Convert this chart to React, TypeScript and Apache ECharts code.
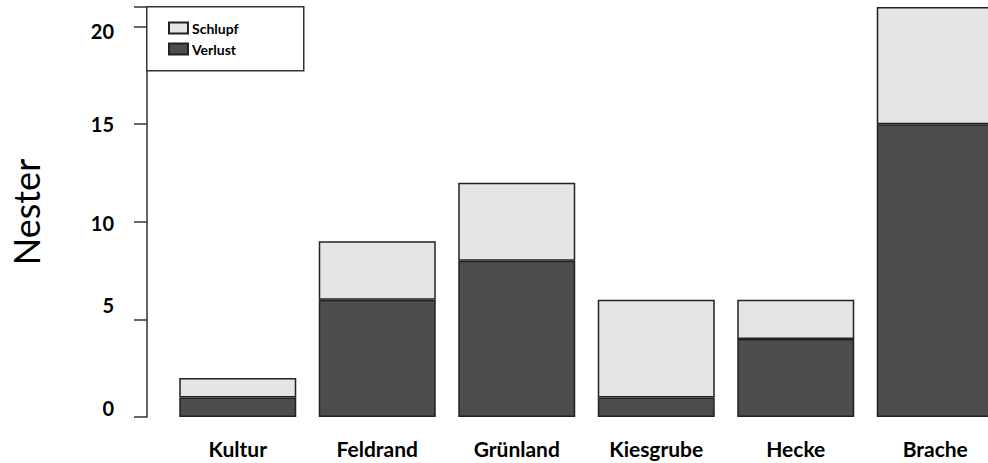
import React, { useEffect, useRef } from "react";
import * as echarts from "echarts";

const categories = ["Kultur", "Feldrand", "Grünland", "Kiesgrube", "Hecke", "Brache"];
const verlust = [1, 6, 8, 1, 4, 15];
const schlupf = [1, 3, 4, 5, 2, 6];
const yTicks = [0, 5, 10, 15, 20];

export default function App() {
  const ref = useRef<HTMLDivElement>(null);
  useEffect(() => {
    const chart = echarts.init(ref.current!, null, { renderer: "svg" });
    const font = "Lato, 'Open Sans', sans-serif";
    const shift: Record<number, number> = { 0: -9, 5: -14, 10: 1, 15: 0, 20: 4 };
    const rich: Record<string, any> = {};
    yTicks.forEach((t) => {
      const d = shift[t];
      rich["t" + t] = {
        fontFamily: font,
        fontWeight: "bold",
        fontSize: 20,
        color: "#000",
        padding: d < 0 ? [0, 0, -2 * d, 0] : [2 * d, 0, 0, 0],
      };
    });
    chart.setOption({
      animation: false,
      grid: { left: 167, right: 0, top: 7, bottom: 46 },
      graphic: [
        {
          type: "rect",
          left: 146,
          top: 6,
          shape: { width: 157, height: 64 },
          style: { fill: "#fff", stroke: "#333", lineWidth: 1.5 },
          z: 10,
        },
      ],
      legend: {
        data: ["Schlupf", "Verlust"],
        orient: "vertical",
        left: 163,
        top: 16,
        itemWidth: 19,
        itemHeight: 11,
        itemGap: 7,
        icon: "rect",
        z: 20,
        textStyle: { fontFamily: font, fontWeight: "bold", fontSize: 14, color: "#000", padding: [0, 0, 0, -1] },
      },
      xAxis: {
        type: "category",
        data: categories,
        axisLine: { show: false },
        axisTick: { show: false },
        axisLabel: { fontFamily: font, fontWeight: "bold", fontSize: 21, color: "#000", margin: 21 },
      },
      yAxis: {
        type: "value",
        min: 0,
        max: 21,
        interval: 5,
        offset: 21,
        name: "Nester",
        nameLocation: "middle",
        nameGap: 103,
        nameTextStyle: { fontFamily: font, fontSize: 36, color: "#000" },
        splitLine: { show: false },
        axisLine: { show: true, lineStyle: { color: "#333", width: 1.5 } },
        axisTick: { show: true, length: 13, lineStyle: { color: "#333", width: 1.5 } },
        axisLabel: {
          margin: 33,
          rich,
          formatter: (v: number) => (yTicks.includes(v) ? `{t${v}|${v}}` : ""),
        },
      },
      series: [
        {
          name: "Verlust",
          type: "bar",
          stack: "a",
          data: verlust,
          barWidth: 117,
          itemStyle: { color: "#4d4d4d", borderColor: "#222", borderWidth: 1.5 },
        },
        {
          name: "Schlupf",
          type: "bar",
          stack: "a",
          data: schlupf,
          barWidth: 117,
          itemStyle: { color: "#e5e5e5", borderColor: "#222", borderWidth: 1.5 },
        },
      ],
    });
    return () => chart.dispose();
  }, []);
  return (
    <div style={{ position: "absolute", left: 0, top: 0, width: 988, height: 463, overflow: "hidden" }}>
      <div ref={ref} style={{ width: 1005, height: 463 }} />
    </div>
  );
}
